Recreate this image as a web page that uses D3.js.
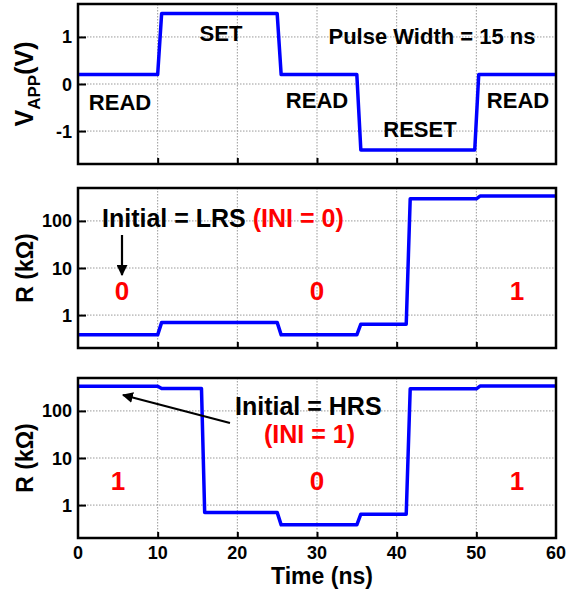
<!DOCTYPE html>
<html>
<head>
<meta charset="utf-8">
<script src="https://cdn.jsdelivr.net/npm/d3@7"></script>
<style>
    body { margin: 0; background: #fff; }
    text { font-family: "Liberation Sans", Arial, sans-serif; font-weight: bold; }
</style>
</head>
<body>
<div class="chart"></div>
<script>
// applied voltage waveform
var tV = [0, 10, 10.5, 25, 25.5, 35, 35.5, 49.8, 50.3, 60];
var vApp = [0.2, 0.2, 1.5, 1.5, 0.2, 0.2, -1.4, -1.4, 0.2, 0.2];

// resistance, initial LRS
var tLRS = [0, 10, 10.5, 25, 25.5, 35, 35.5, 41.2, 41.7, 50, 50.5, 60];
var rLRS = [0.38, 0.38, 0.7, 0.7, 0.38, 0.38, 0.64, 0.64, 295, 295, 340, 340];

// resistance, initial HRS
var tHRS = [0, 10, 10.5, 15.5, 15.9, 25, 25.5, 35, 35.5, 41.2, 41.7, 50, 50.5, 60];
var rHRS = [335, 335, 300, 300, 0.7, 0.7, 0.38, 0.38, 0.64, 0.64, 295, 295, 340, 340];

var xTicks = [0, 10, 20, 30, 40, 50, 60];
var vTicks = [-1, 0, 1];
var rTicks = [1, 10, 100];

var width = 582,
    height = 589,
    left = 78,
    right = 556;

var svg = d3.select('.chart').append('svg')
    .attr('width', width)
    .attr('height', height);

var x = d3.scaleLinear().domain([0, 60]).range([left, right]);

var panels = [
    {top: 4, bottom: 164, t: tV, v: vApp, log: false},
    {top: 188, bottom: 348, t: tLRS, v: rLRS, log: true},
    {top: 378, bottom: 538, t: tHRS, v: rHRS, log: true}
];

panels.forEach(function (p, k) {
    var y = p.log
        ? d3.scaleLog().domain([0.2, 500]).range([p.bottom, p.top])
        : d3.scaleLinear().domain([-1.7, 1.7]).range([p.bottom, p.top]);
    var yt = p.log ? rTicks : vTicks;
    var g = svg.append('g');

    // grid
    g.selectAll('.vg').data(xTicks.slice(1, -1)).enter().append('line')
        .attr('x1', d => x(d)).attr('x2', d => x(d))
        .attr('y1', p.top).attr('y2', p.bottom)
        .attr('stroke', '#999').attr('stroke-width', 1)
        .attr('stroke-dasharray', '1.5,1.5');
    g.selectAll('.hg').data(yt).enter().append('line')
        .attr('x1', left).attr('x2', right)
        .attr('y1', d => y(d)).attr('y2', d => y(d))
        .attr('stroke', '#999').attr('stroke-width', 1)
        .attr('stroke-dasharray', '1.5,1.5');

    // inward ticks
    g.append('g')
        .attr('transform', 'translate(' + left + ',0)')
        .call(d3.axisRight(y).tickValues(yt).tickSize(8).tickFormat(''))
        .call(a => a.select('.domain').remove())
        .selectAll('line').attr('stroke', '#000').attr('stroke-width', 2);
    g.append('g')
        .attr('transform', 'translate(0,' + p.bottom + ')')
        .call(d3.axisTop(x).tickValues(xTicks.slice(1, -1)).tickSize(6).tickFormat(''))
        .call(a => a.select('.domain').remove())
        .selectAll('line').attr('stroke', '#000').attr('stroke-width', 2);

    // tick labels
    g.selectAll('.yl').data(yt).enter().append('text')
        .attr('x', left - 6).attr('y', d => y(d) + 6.5)
        .attr('text-anchor', 'end')
        .style('font-size', '18px')
        .text(d => d);

    // data line
    var line = d3.line()
        .x(function (d, i) { return x(p.t[i]); })
        .y(function (d) { return y(d); });
    g.append('path')
        .datum(p.v)
        .attr('d', line)
        .attr('fill', 'none')
        .attr('stroke', '#0000ff')
        .attr('stroke-width', 3.5)
        .attr('stroke-linejoin', 'round');

    // frame
    g.append('rect')
        .attr('x', left).attr('y', p.top)
        .attr('width', right - left).attr('height', p.bottom - p.top)
        .attr('fill', 'none').attr('stroke', '#000').attr('stroke-width', 2.5);
});

// x tick labels on bottom panel
svg.selectAll('.xl').data(xTicks).enter().append('text')
    .attr('x', d => x(d)).attr('y', 559)
    .attr('text-anchor', 'middle')
    .style('font-size', '18px')
    .text(d => d);

svg.append('text')
    .attr('x', 322).attr('y', 584)
    .attr('text-anchor', 'middle')
    .style('font-size', '23px')
    .text('Time (ns)');

// y axis titles
var vt = svg.append('text')
    .attr('transform', 'translate(33,84) rotate(-90)')
    .attr('text-anchor', 'middle')
    .style('font-size', '25px');
vt.append('tspan').text('V');
vt.append('tspan').attr('dy', 7).style('font-size', '17px').text('APP');
vt.append('tspan').attr('dy', -7).text('(V)');

[268, 458].forEach(function (cy) {
    svg.append('text')
        .attr('transform', 'translate(33,' + cy + ') rotate(-90)')
        .attr('text-anchor', 'middle')
        .style('font-size', '23px')
        .text('R (kΩ)');
});

// top panel annotations
var topLabels = [
    {t: 'READ', x: 120, y: 110},
    {t: 'SET', x: 221, y: 41},
    {t: 'Pulse Width = 15 ns', x: 432, y: 44},
    {t: 'READ', x: 317, y: 108},
    {t: 'RESET', x: 420, y: 137},
    {t: 'READ', x: 518, y: 108}
];
svg.selectAll('.tl').data(topLabels).enter().append('text')
    .attr('x', d => d.x).attr('y', d => d.y)
    .attr('text-anchor', 'middle')
    .style('font-size', '22px')
    .text(d => d.t);

// state digits
var bits = [
    {t: '0', x: 122, y: 300}, {t: '0', x: 317, y: 300}, {t: '1', x: 517, y: 300},
    {t: '1', x: 118, y: 490}, {t: '0', x: 317, y: 490}, {t: '1', x: 517, y: 490}
];
svg.selectAll('.bt').data(bits).enter().append('text')
    .attr('x', d => d.x).attr('y', d => d.y)
    .attr('text-anchor', 'middle')
    .attr('fill', '#ff0000')
    .style('font-size', '26px')
    .text(d => d.t);

// initial state notes
var n1 = svg.append('text').attr('x', 102).attr('y', 227).style('font-size', '25px');
n1.append('tspan').text('Initial = LRS ');
n1.append('tspan').attr('fill', '#ff0000').text('(INI = 0)');

svg.append('text').attr('x', 235).attr('y', 415).style('font-size', '25px').text('Initial = HRS');
svg.append('text').attr('x', 264).attr('y', 443).attr('fill', '#ff0000')
    .style('font-size', '25px').text('(INI = 1)');

// arrows
svg.append('defs').append('marker')
    .attr('id', 'ah')
    .attr('viewBox', '0 0 10 10')
    .attr('refX', 9).attr('refY', 5)
    .attr('markerWidth', 5).attr('markerHeight', 5)
    .attr('markerUnits', 'strokeWidth')
    .attr('orient', 'auto')
    .append('path').attr('d', 'M0,0 L10,5 L0,10 Z').attr('fill', '#000');

svg.append('line')
    .attr('x1', 122).attr('y1', 235).attr('x2', 122).attr('y2', 275)
    .attr('stroke', '#000').attr('stroke-width', 2.2)
    .attr('marker-end', 'url(#ah)');
svg.append('line')
    .attr('x1', 230).attr('y1', 423).attr('x2', 123).attr('y2', 395)
    .attr('stroke', '#000').attr('stroke-width', 2.2)
    .attr('marker-end', 'url(#ah)');
</script>
</body>
</html>
